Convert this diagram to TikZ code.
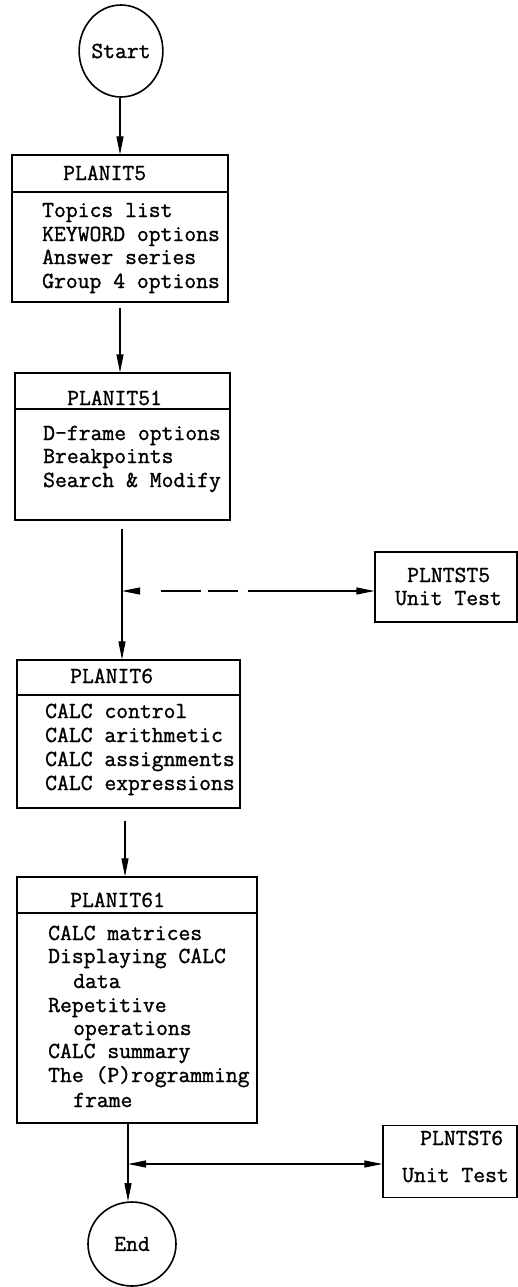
\documentclass[tikz,border=0pt]{standalone}
\usepackage{fontspec}
\newfontfamily\tw{Latin Modern Mono}[FakeBold=1.2]
\usetikzlibrary{arrows.meta,shapes.geometric}
\tikzset{
  box/.style={draw,line width=1.2pt,rectangle,inner sep=0pt},
  term/.style={draw,line width=1.6pt,ellipse,inner sep=0pt,font=\tw\fontsize{23}{27}\selectfont},
  txt/.style={inner sep=0pt,anchor=base west,font=\tw\fontsize{23}{27}\selectfont},
  conn/.style={line width=1.1pt,-{Triangle[length=18pt,width=7pt]}},
  biconn/.style={line width=1.1pt,{Triangle[length=18pt,width=7pt]}-{Triangle[length=18pt,width=7pt]}},
  hdr/.style={line width=1.2pt}
}
\begin{document}
\begin{tikzpicture}[x=1pt,y=-1pt]
\useasboundingbox (0,0) rectangle (518,1287);
% terminals
\node[term,minimum width=80pt,minimum height=92pt] (start) at (121,51) {Start};
\node[term,minimum width=88pt,minimum height=84pt] (end) at (132,1244) {\raisebox{-6pt}{End}};
% boxes
\node[box,minimum width=216pt,minimum height=147pt] (p5) at (120,228.5) {};
\node[box,minimum width=215pt,minimum height=147pt] (p51) at (122.5,446.5) {};
\node[box,minimum width=223pt,minimum height=148pt] (p6) at (128.5,734) {};
\node[box,minimum width=240pt,minimum height=246pt] (p61) at (137,1000) {};
\node[box,minimum width=142pt,minimum height=70pt] (t5) at (446,587) {};
\node[box,minimum width=134pt,minimum height=72pt] (t6) at (450,1161.5) {};
% header lines
\draw[hdr] (p5.west |- 0,192) -- (p5.east |- 0,192);
\draw[hdr] (p51.west |- 0,409) -- (p51.east |- 0,409);
\draw[hdr] (p6.west |- 0,695) -- (p6.east |- 0,695);
\draw[hdr] (p61.west |- 0,913) -- (p61.east |- 0,913);
% texts PLANIT5
\node[txt] (p5t) at (63,180) {PLANIT5};
\node[txt] (p5a) at (42,217) {Topics list};
\node[txt] (p5b) at (42,241) {KEYWORD options};
\node[txt] (p5c) at (42,264) {Answer series};
\node[txt] (p5d) at (42,288) {Group 4 options};
% PLANIT51
\node[txt] (p51t) at (67,405) {PLANIT51};
\node[txt] (p51a) at (43,440) {D-frame options};
\node[txt] (p51b) at (43,463) {Breakpoints};
\node[txt] (p51c) at (43,487) {Search \& Modify};
% PLANIT6
\node[txt] (p6t) at (70,683) {PLANIT6};
\node[txt] (p6a) at (45,718) {CALC control};
\node[txt] (p6b) at (45,742) {CALC arithmetic};
\node[txt] (p6c) at (45,766) {CALC assignments};
\node[txt] (p6d) at (45,790) {CALC expressions};
% PLANIT61
\node[txt] (p61t) at (70,907) {PLANIT61};
\node[txt] (p61a) at (48,940) {CALC matrices};
\node[txt] (p61b) at (48,963) {Displaying CALC};
\node[txt] (p61c) at (73,988) {data};
\node[txt] (p61d) at (48,1012) {Repetitive};
\node[txt] (p61e) at (73,1035) {operations};
\node[txt] (p61f) at (48,1058) {CALC summary};
\node[txt] (p61g) at (48,1082) {The (P)rogramming};
\node[txt] (p61h) at (73,1107) {frame};
% unit tests
\node[txt] (t5a) at (407,582) {PLNTST5};
\node[txt] (t5b) at (395,605) {Unit Test};
\node[txt] (t6a) at (420,1145) {PLNTST6};
\node[txt] (t6b) at (402,1182) {Unit Test};
% junctions
\coordinate (j1) at (122,591);
\coordinate (j2) at (128,1164);
% connectors
\draw[conn] (start.south -| p5.north) -- (p5.north);
\draw[conn,shorten <=5pt] (p5.south) -- (p5.south |- p51.north);
\draw[conn,shorten <=8pt] (j1 |- p51.south) -- (j1 |- p6.north);
\draw[biconn,dash pattern=on 0pt off 21pt on 40pt off 7pt on 30pt off 10pt on 300pt] (j1) -- (j1 -| t5.west);
\draw[conn,shorten <=12pt] (125,0 |- p6.south) -- (125,0 |- p61.north);
\draw[conn] (j2 |- p61.south) -- (j2 |- end.north);
\draw[biconn] (j2) -- (j2 -| t6.west);
\end{tikzpicture}
\end{document}
